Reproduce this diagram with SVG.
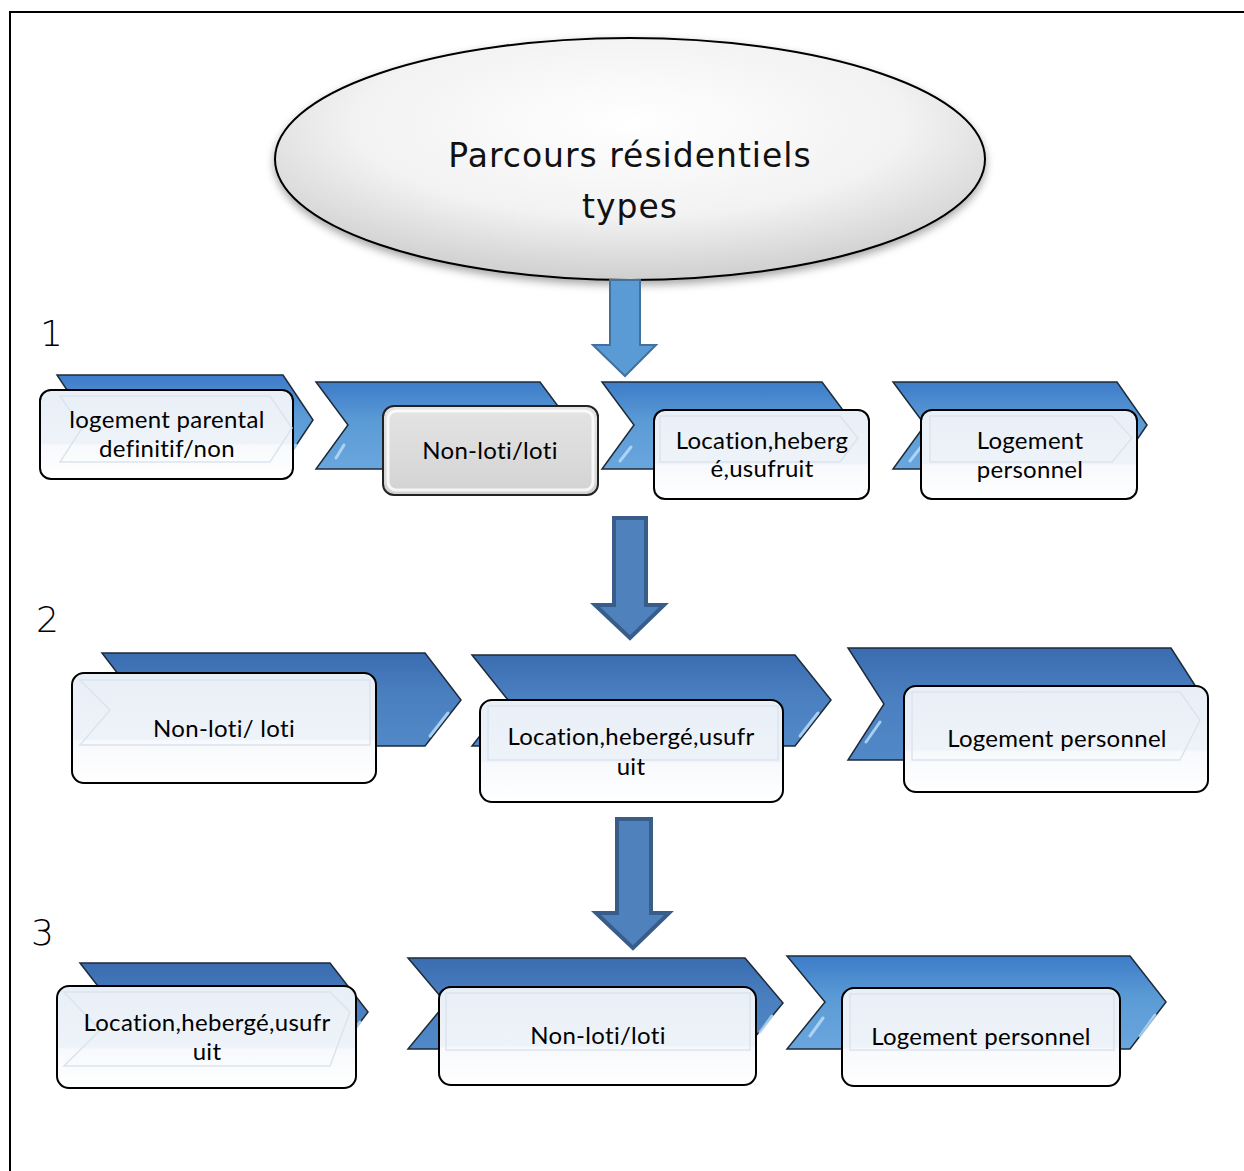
<svg xmlns="http://www.w3.org/2000/svg" width="1244" height="1171" viewBox="0 0 1244 1171">
<defs>
<radialGradient id="ellG" cx="0.5" cy="0.35" r="0.65">
<stop offset="0" stop-color="#ffffff"/>
<stop offset="0.6" stop-color="#f2f2f2"/>
<stop offset="1" stop-color="#cfcfcf"/>
</radialGradient>
<linearGradient id="chev1" x1="0" y1="0" x2="0" y2="1">
<stop offset="0" stop-color="#3d7cc9"/>
<stop offset="0.45" stop-color="#5b9bd5"/>
<stop offset="1" stop-color="#6aa6de"/>
</linearGradient>
<linearGradient id="chev2" x1="0" y1="0" x2="0" y2="1">
<stop offset="0" stop-color="#3a6db0"/>
<stop offset="0.45" stop-color="#4a7fc0"/>
<stop offset="1" stop-color="#5189c8"/>
</linearGradient>
<linearGradient id="boxG" x1="0" y1="0" x2="0" y2="1">
<stop offset="0" stop-color="#e9eff7"/>
<stop offset="0.6" stop-color="#eef3f9"/>
<stop offset="0.62" stop-color="#f7f9fc"/>
<stop offset="1" stop-color="#ffffff"/>
</linearGradient>
<linearGradient id="grayG" x1="0" y1="0" x2="0" y2="1">
<stop offset="0" stop-color="#e4e4e4"/>
<stop offset="0.5" stop-color="#dcdcdc"/>
<stop offset="1" stop-color="#d2d2d2"/>
</linearGradient>
<filter id="sh" x="-10%" y="-10%" width="120%" height="130%">
<feDropShadow dx="0" dy="4" stdDeviation="4" flood-color="#000" flood-opacity="0.35"/>
</filter>
</defs>
<style>
.frame{fill:none;stroke:#000;stroke-width:2}
.c1{fill:url(#chev1);stroke:#1e2a38;stroke-width:1.5;stroke-linejoin:miter}
.c2{fill:url(#chev2);stroke:#1e2a38;stroke-width:1.5;stroke-linejoin:miter}
.hl{fill:none;stroke:#b9dcf7;stroke-width:3;stroke-linecap:round;opacity:0.85}
.box{fill:url(#boxG);stroke:#000;stroke-width:2}
.gbox{fill:url(#grayG);stroke:#222;stroke-width:2}
.glass{fill:none;stroke:#ffffff;stroke-width:3;opacity:0.8}
.inner{fill:none;stroke:#dbe4ee;stroke-width:1.5}
.t{font-family:Lato,"Liberation Sans",sans-serif;font-size:24px;letter-spacing:0.3px;fill:#000;text-anchor:middle}
.title{font-family:"DejaVu Sans",sans-serif;font-weight:normal;font-size:33px;letter-spacing:1px;fill:#111;text-anchor:middle}
.num{font-family:"DejaVu Sans",sans-serif;font-weight:200;font-size:36px;fill:#000}
.a1{fill:#5b9bd5;stroke:#41719c;stroke-width:2}
.a2{fill:#4f81bd;stroke:#385d8a;stroke-width:4}
</style>
<path class="frame" d="M10,1171 V12 H1244"/>

<g id="title">
<ellipse cx="630" cy="159" rx="355" ry="121" fill="url(#ellG)" stroke="#000" stroke-width="2" filter="url(#sh)"/>
<text class="title" x="630" y="167">Parcours résidentiels</text>
<text class="title" x="630" y="218">types</text>
</g>

<g id="labels">
<text class="num" x="40" y="346">1</text>
<text class="num" x="36" y="632">2</text>
<text class="num" x="31" y="945">3</text>
</g>

<g id="connectors">
<path class="a1" d="M610,280 H640 V345 H656 L625,376 L593,345 H610 Z"/>
<path class="a2" d="M614,518 H646 V605 H664 L630,638 L595,605 H614 Z"/>
<path class="a2" d="M617,819 H651 V913 H669 L633,948 L596,913 H617 Z"/>
</g>

<g id="row1-a">
<polygon class="c1" points="57,375 283,375 313,420 283,465 57,465 87,420"/>
<path class="hl" d="M296,445 L288,456"/>
<rect class="box" x="40" y="390" width="253" height="89" rx="11"/>
<polygon class="inner" points="60,396 270,396 292,428 270,462 60,462 82,428"/>
<text class="t" x="167" y="428">logement parental</text>
<text class="t" x="167" y="457">definitif/non</text>
</g>

<g id="row1-b">
<polygon class="c1" points="316,382 540,382 572,425 540,469 316,469 348,425"/>
<path class="hl" d="M344,445 L336,458"/>
<rect class="gbox" x="383" y="406" width="215" height="89" rx="11"/>
<rect class="glass" x="388" y="411" width="205" height="79" rx="8"/>
<text class="t" x="490" y="459">Non-loti/loti</text>
</g>

<g id="row1-c">
<polygon class="c1" points="602,382 822,382 854,425 822,469 602,469 634,425"/>
<path class="hl" d="M631,447 L620,461"/>
<rect class="box" x="654" y="410" width="215" height="89" rx="11"/>
<polygon class="inner" points="660,416 840,416 858,438 840,462 660,462"/>
<text class="t" x="762" y="449">Location,heberg</text>
<text class="t" x="762" y="477">é,usufruit</text>
</g>

<g id="row1-d">
<polygon class="c1" points="893,382 1117,382 1147,425 1117,469 893,469 925,425"/>
<path class="hl" d="M921,447 L910,461"/>
<rect class="box" x="921" y="410" width="216" height="89" rx="11"/>
<polygon class="inner" points="930,416 1112,416 1132,438 1112,462 930,462"/>
<text class="t" x="1030" y="449">Logement</text>
<text class="t" x="1030" y="478">personnel</text>
</g>

<g id="row2-a">
<polygon class="c2" points="102,653 425,653 461,700 425,746 102,746 138,700"/>
<path class="hl" d="M448,713 L430,736"/>
<rect class="box" x="72" y="673" width="304" height="110" rx="12"/>
<polygon class="inner" points="80,680 360,680 370,680 370,745 80,745 110,710"/>
<text class="t" x="224" y="737">Non-loti/ loti</text>
</g>

<g id="row2-b">
<polygon class="c2" points="472,655 795,655 831,700 795,746 472,746 508,700"/>
<path class="hl" d="M818,713 L800,736"/>
<rect class="box" x="480" y="700" width="303" height="102" rx="12"/>
<polygon class="inner" points="488,706 770,706 778,706 778,760 488,760"/>
<text class="t" x="631" y="745">Location,hebergé,usufr</text>
<text class="t" x="631" y="775">uit</text>
</g>

<g id="row2-c">
<polygon class="c2" points="848,648 1171,648 1207,704 1171,760 848,760 884,704"/>
<path class="hl" d="M880,722 L866,742"/>
<rect class="box" x="904" y="686" width="304" height="106" rx="12"/>
<polygon class="inner" points="912,692 1180,692 1200,720 1180,760 912,760"/>
<text class="t" x="1057" y="747">Logement personnel</text>
</g>

<g id="row3-a">
<polygon class="c2" points="80,963 330,963 368,1012 330,1062 80,1062 118,1012"/>
<path class="hl" d="M360,1022 L350,1036"/>
<rect class="box" x="57" y="986" width="299" height="102" rx="12"/>
<polygon class="inner" points="64,992 330,992 350,1012 330,1066 64,1066 100,1030"/>
<text class="t" x="207" y="1031">Location,hebergé,usufr</text>
<text class="t" x="207" y="1060">uit</text>
</g>

<g id="row3-b">
<polygon class="c2" points="408,958 745,958 783,1003 745,1049 408,1049 446,1003"/>
<path class="hl" d="M772,1016 L760,1032"/>
<rect class="box" x="439" y="987" width="317" height="98" rx="12"/>
<polygon class="inner" points="446,993 740,993 750,993 750,1050 446,1050"/>
<text class="t" x="598" y="1044">Non-loti/loti</text>
</g>

<g id="row3-c">
<polygon class="c2" points="787,956 1130,956 1166,1002 1130,1049 787,1049 825,1002" style="fill:url(#chev1)"/>
<path class="hl" d="M823,1018 L810,1036"/>
<path class="hl" d="M1155,1015 L1140,1036"/>
<rect class="box" x="842" y="988" width="278" height="98" rx="12"/>
<polygon class="inner" points="850,994 1110,994 1114,994 1114,1050 850,1050"/>
<text class="t" x="981" y="1045">Logement personnel</text>
</g>
</svg>
